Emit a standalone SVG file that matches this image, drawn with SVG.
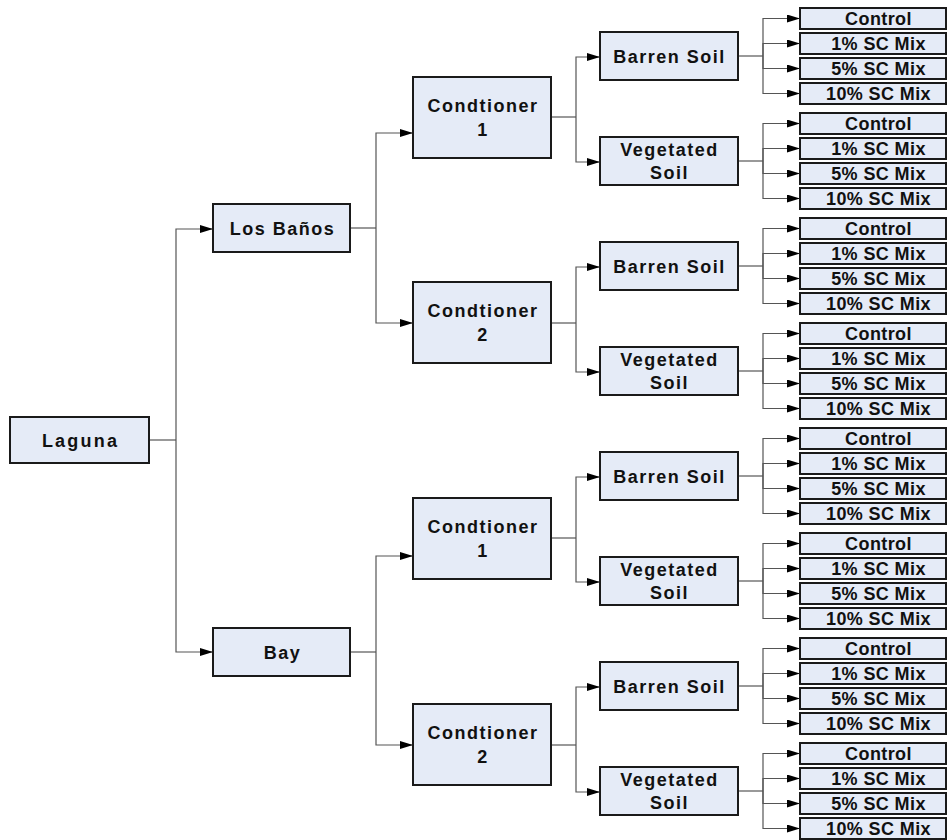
<svg xmlns="http://www.w3.org/2000/svg" width="948" height="840" viewBox="0 0 948 840">
<style>
.b{fill:#e5ebf7;stroke:#1a1a1a;stroke-width:2}
.t{font-family:"Liberation Sans",Arial,sans-serif;font-weight:bold;font-size:18px;fill:#111;text-anchor:middle;letter-spacing:1.5px}
.lt{font-family:"Liberation Sans",Arial,sans-serif;font-weight:bold;font-size:18px;fill:#111;text-anchor:middle;letter-spacing:0.4px}
.l{fill:none;stroke:#555;stroke-width:1.2}
.c{fill:none;stroke:#555;stroke-width:1.2;marker-end:url(#ah)}
</style>
<defs>
<marker id="ah" viewBox="0 0 13 8" refX="13" refY="4" markerWidth="13" markerHeight="8" markerUnits="userSpaceOnUse" orient="auto">
<path d="M0,0 L13,4 L0,8 z" fill="#000"/>
</marker>
</defs>
<rect width="948" height="840" fill="#fff"/>
<g id="connectors">
<path class="l" d="M149,440 H176"/>
<path class="c" d="M176,440 V229 H213"/>
<path class="c" d="M176,440 V652 H213"/>
<path class="l" d="M350,228 H376"/>
<path class="c" d="M376,228 V133 H413"/>
<path class="c" d="M376,228 V323 H413"/>
<path class="l" d="M350,652 H376"/>
<path class="c" d="M376,652 V556 H413"/>
<path class="c" d="M376,652 V745 H413"/>
<path class="l" d="M551,117 H576"/>
<path class="c" d="M576,117 V57 H600"/>
<path class="c" d="M576,117 V162 H600"/>
<path class="l" d="M551,323 H576"/>
<path class="c" d="M576,323 V267 H600"/>
<path class="c" d="M576,323 V372 H600"/>
<path class="l" d="M551,538 H576"/>
<path class="c" d="M576,538 V477 H600"/>
<path class="c" d="M576,538 V582 H600"/>
<path class="l" d="M551,745 H576"/>
<path class="c" d="M576,745 V687 H600"/>
<path class="c" d="M576,745 V792 H600"/>
<path class="l" d="M738,56 H763"/>
<path class="c" d="M763,56 V18.5 H800"/><path class="c" d="M763,56 V43.5 H800"/><path class="c" d="M763,56 V68.5 H800"/><path class="c" d="M763,56 V93.5 H800"/>
<path class="l" d="M738,161 H763"/>
<path class="c" d="M763,161 V123.5 H800"/><path class="c" d="M763,161 V148.5 H800"/><path class="c" d="M763,161 V173.5 H800"/><path class="c" d="M763,161 V198.5 H800"/>
<path class="l" d="M738,266 H763"/>
<path class="c" d="M763,266 V228.5 H800"/><path class="c" d="M763,266 V253.5 H800"/><path class="c" d="M763,266 V278.5 H800"/><path class="c" d="M763,266 V303.5 H800"/>
<path class="l" d="M738,371 H763"/>
<path class="c" d="M763,371 V333.5 H800"/><path class="c" d="M763,371 V358.5 H800"/><path class="c" d="M763,371 V383.5 H800"/><path class="c" d="M763,371 V408.5 H800"/>
<path class="l" d="M738,476 H763"/>
<path class="c" d="M763,476 V438.5 H800"/><path class="c" d="M763,476 V463.5 H800"/><path class="c" d="M763,476 V488.5 H800"/><path class="c" d="M763,476 V513.5 H800"/>
<path class="l" d="M738,581 H763"/>
<path class="c" d="M763,581 V543.5 H800"/><path class="c" d="M763,581 V568.5 H800"/><path class="c" d="M763,581 V593.5 H800"/><path class="c" d="M763,581 V618.5 H800"/>
<path class="l" d="M738,686 H763"/>
<path class="c" d="M763,686 V648.5 H800"/><path class="c" d="M763,686 V673.5 H800"/><path class="c" d="M763,686 V698.5 H800"/><path class="c" d="M763,686 V723.5 H800"/>
<path class="l" d="M738,791 H763"/>
<path class="c" d="M763,791 V753.5 H800"/><path class="c" d="M763,791 V778.5 H800"/><path class="c" d="M763,791 V803.5 H800"/><path class="c" d="M763,791 V828.5 H800"/>
</g>
<g id="laguna"><rect class="b" x="10" y="417" width="139" height="46"/><text class="t" x="80.5" y="446.5" style="letter-spacing:2.2px">Laguna</text></g>
<g id="losbanos"><rect class="b" x="213" y="204" width="137" height="48"/><text class="t" x="282.5" y="234.5">Los Baños</text></g>
<g id="bay"><rect class="b" x="213" y="628" width="137" height="48"/><text class="t" x="282.5" y="658.5">Bay</text></g>
<g id="lb-cond1"><rect class="b" x="413" y="77" width="138" height="81"/><text class="t" x="483" y="111.5">Condtioner</text><text class="t" x="483" y="135.5">1</text></g>
<g id="lb-cond2"><rect class="b" x="413" y="282" width="138" height="81"/><text class="t" x="483" y="316.5">Condtioner</text><text class="t" x="483" y="340.5">2</text></g>
<g id="bay-cond1"><rect class="b" x="413" y="498" width="138" height="81"/><text class="t" x="483" y="532.5">Condtioner</text><text class="t" x="483" y="556.5">1</text></g>
<g id="bay-cond2"><rect class="b" x="413" y="704" width="138" height="81"/><text class="t" x="483" y="738.5">Condtioner</text><text class="t" x="483" y="762.5">2</text></g>
<g id="soil0"><rect class="b" x="600" y="32" width="138" height="48"/><text class="t" x="669.5" y="62.5">Barren Soil</text></g>
<g id="soil1"><rect class="b" x="600" y="137" width="138" height="48"/><text class="t" x="669.5" y="155.5">Vegetated</text><text class="t" x="669.5" y="178.5">Soil</text></g>
<g id="soil2"><rect class="b" x="600" y="242" width="138" height="48"/><text class="t" x="669.5" y="272.5">Barren Soil</text></g>
<g id="soil3"><rect class="b" x="600" y="347" width="138" height="48"/><text class="t" x="669.5" y="365.5">Vegetated</text><text class="t" x="669.5" y="388.5">Soil</text></g>
<g id="soil4"><rect class="b" x="600" y="452" width="138" height="48"/><text class="t" x="669.5" y="482.5">Barren Soil</text></g>
<g id="soil5"><rect class="b" x="600" y="557" width="138" height="48"/><text class="t" x="669.5" y="575.5">Vegetated</text><text class="t" x="669.5" y="598.5">Soil</text></g>
<g id="soil6"><rect class="b" x="600" y="662" width="138" height="48"/><text class="t" x="669.5" y="692.5">Barren Soil</text></g>
<g id="soil7"><rect class="b" x="600" y="767" width="138" height="48"/><text class="t" x="669.5" y="785.5">Vegetated</text><text class="t" x="669.5" y="808.5">Soil</text></g>
<g id="leaf0-0"><rect class="b" x="800" y="8" width="146" height="21"/><text class="lt" x="878.5" y="25">Control</text></g>
<g id="leaf0-1"><rect class="b" x="800" y="33" width="146" height="21"/><text class="lt" x="878.5" y="50">1% SC Mix</text></g>
<g id="leaf0-2"><rect class="b" x="800" y="58" width="146" height="21"/><text class="lt" x="878.5" y="75">5% SC Mix</text></g>
<g id="leaf0-3"><rect class="b" x="800" y="83" width="146" height="21"/><text class="lt" x="878.5" y="100">10% SC Mix</text></g>
<g id="leaf1-0"><rect class="b" x="800" y="113" width="146" height="21"/><text class="lt" x="878.5" y="130">Control</text></g>
<g id="leaf1-1"><rect class="b" x="800" y="138" width="146" height="21"/><text class="lt" x="878.5" y="155">1% SC Mix</text></g>
<g id="leaf1-2"><rect class="b" x="800" y="163" width="146" height="21"/><text class="lt" x="878.5" y="180">5% SC Mix</text></g>
<g id="leaf1-3"><rect class="b" x="800" y="188" width="146" height="21"/><text class="lt" x="878.5" y="205">10% SC Mix</text></g>
<g id="leaf2-0"><rect class="b" x="800" y="218" width="146" height="21"/><text class="lt" x="878.5" y="235">Control</text></g>
<g id="leaf2-1"><rect class="b" x="800" y="243" width="146" height="21"/><text class="lt" x="878.5" y="260">1% SC Mix</text></g>
<g id="leaf2-2"><rect class="b" x="800" y="268" width="146" height="21"/><text class="lt" x="878.5" y="285">5% SC Mix</text></g>
<g id="leaf2-3"><rect class="b" x="800" y="293" width="146" height="21"/><text class="lt" x="878.5" y="310">10% SC Mix</text></g>
<g id="leaf3-0"><rect class="b" x="800" y="323" width="146" height="21"/><text class="lt" x="878.5" y="340">Control</text></g>
<g id="leaf3-1"><rect class="b" x="800" y="348" width="146" height="21"/><text class="lt" x="878.5" y="365">1% SC Mix</text></g>
<g id="leaf3-2"><rect class="b" x="800" y="373" width="146" height="21"/><text class="lt" x="878.5" y="390">5% SC Mix</text></g>
<g id="leaf3-3"><rect class="b" x="800" y="398" width="146" height="21"/><text class="lt" x="878.5" y="415">10% SC Mix</text></g>
<g id="leaf4-0"><rect class="b" x="800" y="428" width="146" height="21"/><text class="lt" x="878.5" y="445">Control</text></g>
<g id="leaf4-1"><rect class="b" x="800" y="453" width="146" height="21"/><text class="lt" x="878.5" y="470">1% SC Mix</text></g>
<g id="leaf4-2"><rect class="b" x="800" y="478" width="146" height="21"/><text class="lt" x="878.5" y="495">5% SC Mix</text></g>
<g id="leaf4-3"><rect class="b" x="800" y="503" width="146" height="21"/><text class="lt" x="878.5" y="520">10% SC Mix</text></g>
<g id="leaf5-0"><rect class="b" x="800" y="533" width="146" height="21"/><text class="lt" x="878.5" y="550">Control</text></g>
<g id="leaf5-1"><rect class="b" x="800" y="558" width="146" height="21"/><text class="lt" x="878.5" y="575">1% SC Mix</text></g>
<g id="leaf5-2"><rect class="b" x="800" y="583" width="146" height="21"/><text class="lt" x="878.5" y="600">5% SC Mix</text></g>
<g id="leaf5-3"><rect class="b" x="800" y="608" width="146" height="21"/><text class="lt" x="878.5" y="625">10% SC Mix</text></g>
<g id="leaf6-0"><rect class="b" x="800" y="638" width="146" height="21"/><text class="lt" x="878.5" y="655">Control</text></g>
<g id="leaf6-1"><rect class="b" x="800" y="663" width="146" height="21"/><text class="lt" x="878.5" y="680">1% SC Mix</text></g>
<g id="leaf6-2"><rect class="b" x="800" y="688" width="146" height="21"/><text class="lt" x="878.5" y="705">5% SC Mix</text></g>
<g id="leaf6-3"><rect class="b" x="800" y="713" width="146" height="21"/><text class="lt" x="878.5" y="730">10% SC Mix</text></g>
<g id="leaf7-0"><rect class="b" x="800" y="743" width="146" height="21"/><text class="lt" x="878.5" y="760">Control</text></g>
<g id="leaf7-1"><rect class="b" x="800" y="768" width="146" height="21"/><text class="lt" x="878.5" y="785">1% SC Mix</text></g>
<g id="leaf7-2"><rect class="b" x="800" y="793" width="146" height="21"/><text class="lt" x="878.5" y="810">5% SC Mix</text></g>
<g id="leaf7-3"><rect class="b" x="800" y="818" width="146" height="21"/><text class="lt" x="878.5" y="835">10% SC Mix</text></g>
</svg>
